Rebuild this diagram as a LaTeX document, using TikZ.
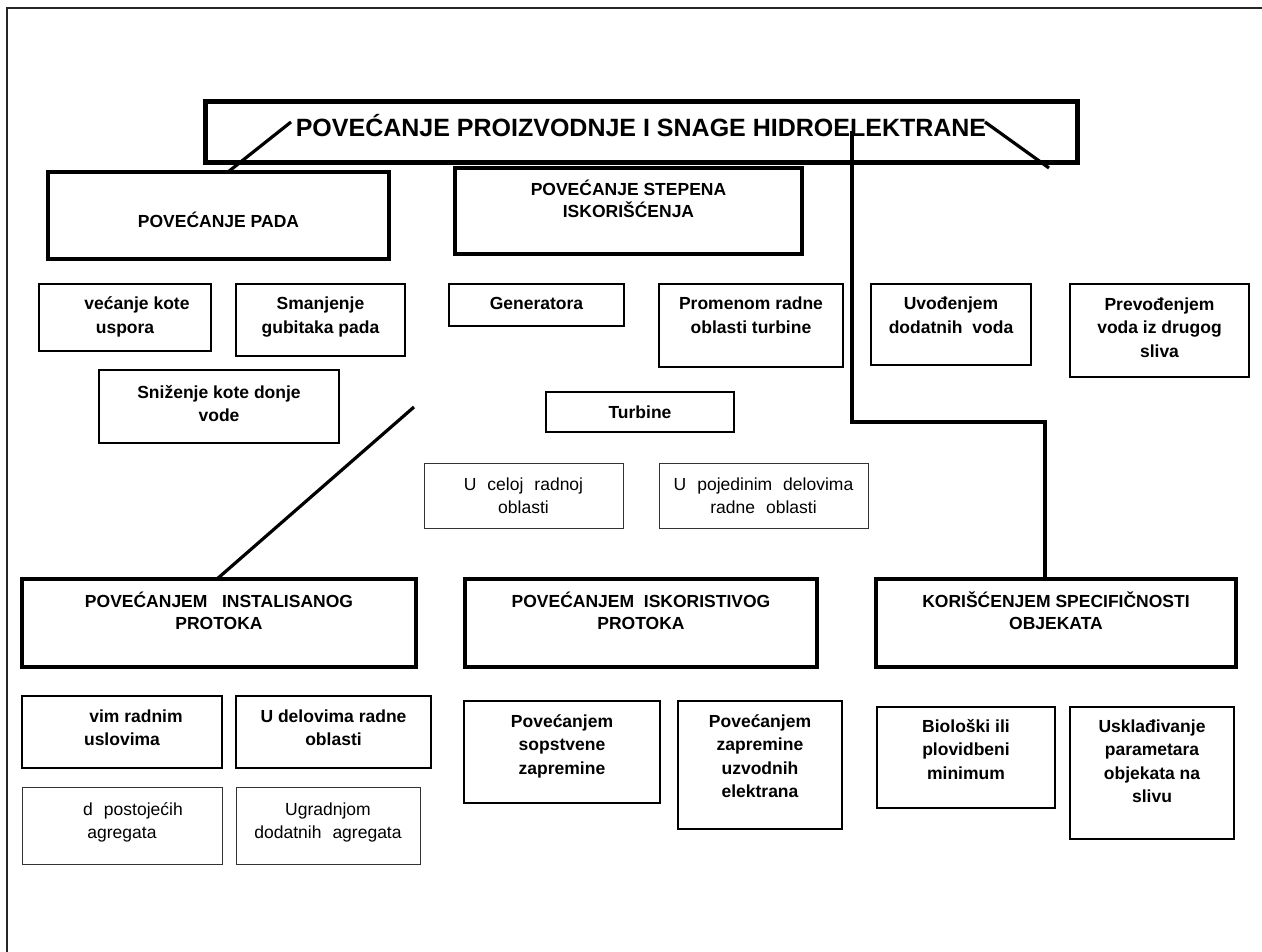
\documentclass[tikz,border=0pt]{standalone}
\usepackage{fontspec}
\setmainfont{Liberation Sans}
\usetikzlibrary{calc}

% box node: name, style, top-left x, top-left y, bottom-right x, bottom-right y
\newcommand\cell[6]{%
  \node[#2, anchor=north west, minimum width={#5pt-#3pt}, minimum height={#6pt-#4pt}] (#1) at (#3,#4) {};}

\begin{document}
\begin{tikzpicture}[x=1pt,y=-1pt,
  frame/.style={line width=2pt, draw=black!85},
  boxbase/.style={rectangle, draw=black, fill=white, inner sep=0pt, outer sep=0pt},
  titlebox/.style={boxbase, line width=5pt},
  headbox/.style={boxbase, line width=3.2pt},
  itembox/.style={boxbase, line width=2.6pt},
  thinbox/.style={boxbase, line width=1pt, draw=black!80},
  % text nodes are placed by the baseline of their last line
  titletext/.style={anchor=base, inner sep=0pt, font={\bfseries\fontsize{25}{30}\selectfont}},
  headtext/.style={anchor=base, inner sep=0pt, align=center, font={\bfseries\fontsize{17.5}{22}\selectfont}},
  itemtext/.style={anchor=base, inner sep=0pt, align=center, font={\bfseries\fontsize{17.5}{23.5}\selectfont}},
  plaintext/.style={anchor=base, inner sep=0pt, align=center, font={\fontsize{17.5}{23.5}\selectfont\spaceskip=11pt\relax}},
  conn/.style={line width=3.2pt, draw=black},
]
\useasboundingbox (0,0) rectangle (1262,952);

% page frame
\draw[frame] (1262,8) -- (7,8) -- (7,952);

% main heading
\cell{title}{titlebox}{205}{102}{1077}{163}
\node[titletext] (title-t) at ([yshift=-35pt]title.north) {POVEĆANJE PROIZVODNJE I SNAGE HIDROELEKTRANE};

% first level
\cell{pada}{headbox}{48}{172}{389}{259}
\node[headtext] (pada-t) at ([yshift=-56pt]pada.north) {POVEĆANJE PADA};
\cell{step}{headbox}{455}{168}{802}{254}
\node[headtext] (step-t) at ([yshift=-50pt]step.north) {POVEĆANJE STEPENA\\ISKORIŠĆENJA};

% second row
\cell{uspor}{itembox}{39}{284}{211}{351}
\node[itemtext] (uspor-t) at ([yshift=-49.5pt]uspor.north) {\hspace*{24pt}većanje kote\\uspora};
\cell{gubit}{itembox}{236}{284}{405}{356}
\node[itemtext] (gubit-t) at ([yshift=-49.5pt]gubit.north) {Smanjenje\\gubitaka pada};
\cell{gen}{itembox}{449}{284}{624}{326}
\node[itemtext] (gen-t) at ([yshift=-26pt]gen.north) {Generatora};
\cell{prom}{itembox}{659}{284}{843}{367}
\node[itemtext] (prom-t) at ([yshift=-49.5pt]prom.north) {Promenom radne\\oblasti turbine};
\cell{uvod}{itembox}{871}{284}{1031}{365}
\node[itemtext] (uvod-t) at ([yshift=-49.5pt]uvod.north) {Uvođenjem\\dodatnih\ \ voda};
\cell{prev}{itembox}{1070}{284}{1249}{377}
\node[itemtext] (prev-t) at ([yshift=-73pt]prev.north) {Prevođenjem\\voda iz drugog\\sliva};

\cell{sniz}{itembox}{99}{370}{339}{443}
\node[itemtext] (sniz-t) at ([yshift=-51.5pt]sniz.north) {Sniženje kote donje\\vode};
\cell{turb}{itembox}{546}{392}{734}{432}
\node[itemtext] (turb-t) at ([yshift=-26pt]turb.north) {Turbine};

\cell{celo}{thinbox}{424}{463}{623}{528}
\node[plaintext] (celo-t) at ([yshift=-50.5pt]celo.north) {U celoj radnoj\\oblasti};
\cell{pojed}{thinbox}{659}{463}{868}{528}
\node[plaintext] (pojed-t) at ([yshift=-50.5pt]pojed.north) {U pojedinim delovima\\radne oblasti};

% second level
\cell{inst}{headbox}{22}{579}{416}{667}
\node[headtext] (inst-t) at ([yshift=-50.5pt]inst.north) {POVEĆANJEM\ \ \ INSTALISANOG\\PROTOKA};
\cell{iskor}{headbox}{465}{579}{817}{667}
\node[headtext] (iskor-t) at ([yshift=-50.5pt]iskor.north) {POVEĆANJEM\ \ ISKORISTIVOG\\PROTOKA};
\cell{kor}{headbox}{876}{579}{1236}{667}
\node[headtext] (kor-t) at ([yshift=-50.5pt]kor.north) {KORIŠĆENJEM SPECIFIČNOSTI\\OBJEKATA};

% bottom rows
\cell{usl}{itembox}{22}{696}{222}{768}
\node[itemtext] (usl-t) at ([yshift=-49.5pt]usl.north) {\hspace*{28pt}vim radnim\\uslovima};
\cell{udel}{itembox}{236}{696}{431}{768}
\node[itemtext] (udel-t) at ([yshift=-49.5pt]udel.north) {U delovima radne\\oblasti};
\cell{post}{thinbox}{22}{787}{222}{864}
\node[plaintext] (post-t) at ([yshift=-51.5pt]post.north) {\hspace*{22pt}d postojećih\\agregata};
\cell{ugrad}{thinbox}{236}{787}{420}{864}
\node[plaintext] (ugrad-t) at ([yshift=-51.5pt]ugrad.north) {Ugradnjom\\dodatnih agregata};

\cell{sops}{itembox}{464}{701}{660}{803}
\node[itemtext] (sops-t) at ([yshift=-73pt]sops.north) {Povećanjem\\sopstvene\\zapremine};
\cell{uzv}{itembox}{678}{701}{842}{829}
\node[itemtext] (uzv-t) at ([yshift=-96.5pt]uzv.north) {Povećanjem\\zapremine\\uzvodnih\\elektrana};
\cell{bio}{itembox}{877}{707}{1055}{808}
\node[itemtext] (bio-t) at ([yshift=-72pt]bio.north) {Biološki ili\\plovidbeni\\minimum};
\cell{uskl}{itembox}{1070}{707}{1234}{839}
\node[itemtext] (uskl-t) at ([yshift=-95.5pt]uskl.north) {Usklađivanje\\parametara\\objekata na\\slivu};

% connectors
\coordinate (tL) at (291,122);
\draw[conn] (tL) -- ([xshift=180pt]pada.north west);
\coordinate (tR) at (985,122);
\coordinate (tRend) at (1049,168);
\draw[conn] (tR) -- (tRend);
\coordinate (tV) at (852,131);
\coordinate (bend) at (1045,422);
\draw[conn] (tV) |- (bend) -- (bend |- kor.north);
\coordinate (dS) at (414,407);
\draw[conn] (dS) -- ([xshift=195pt]inst.north west);
\end{tikzpicture}
\end{document}
